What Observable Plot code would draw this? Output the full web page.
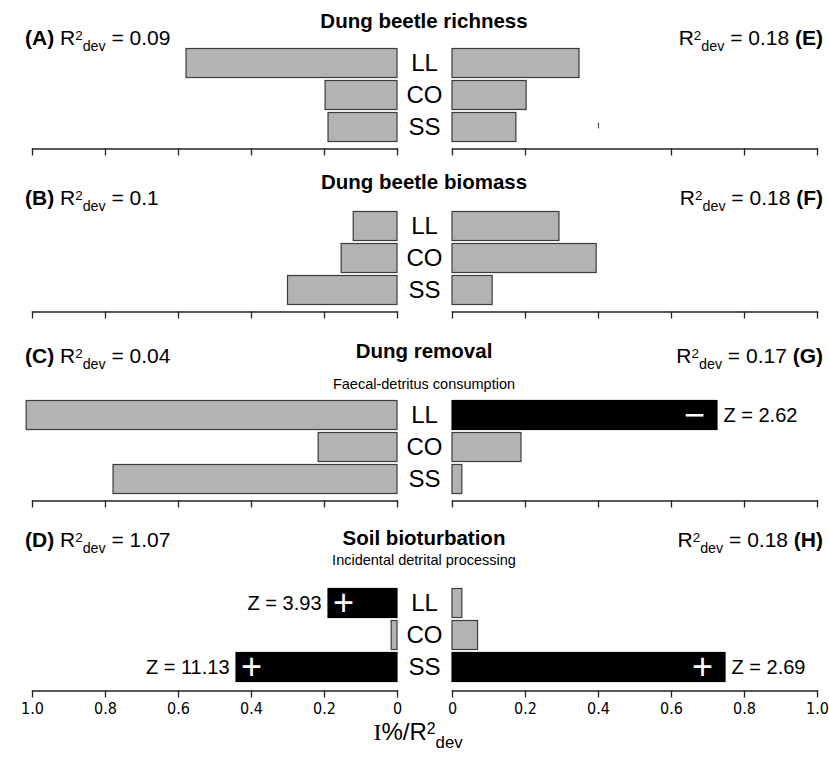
<!DOCTYPE html>
<html><head><meta charset="utf-8">
<script src="https://cdn.jsdelivr.net/npm/d3@7"></script>
<script src="https://cdn.jsdelivr.net/npm/@observablehq/plot@0.6"></script>
<style>
body{margin:0;background:#fff;}
#fig{position:relative;width:829px;height:762px;font-family:"Liberation Sans",Arial,sans-serif;color:#000;overflow:hidden;}
.abs{position:absolute;white-space:nowrap;line-height:1;}
.abs sup,.abs sub{line-height:0;}
.panel{position:absolute;}
</style></head><body><div id="fig"></div>
<script>
// ---------- data ----------
const levels = ["LL", "CO", "SS"];
const titles = ["Dung beetle richness", "Dung beetle biomass", "Dung removal", "Soil bioturbation"];
const subtitles = ["", "", "Faecal-detritus consumption", "Incidental detrital processing"];
const leftLetters = ["A", "B", "C", "D"];
const rightLetters = ["E", "F", "G", "H"];
const leftR2 = ["0.09", "0.1", "0.04", "1.07"];
const rightR2 = ["0.18", "0.18", "0.17", "0.18"];

// I%/R2dev per land-use level (LL, CO, SS)
const valuesA = [0.578, 0.197, 0.189];
const valuesB = [0.120, 0.153, 0.300];
const valuesC = [1.016, 0.216, 0.778];
const valuesD = [0.189, 0.016, 0.441];
const valuesE = [0.348, 0.203, 0.175];
const valuesF = [0.293, 0.395, 0.110];
const valuesG = [0.726, 0.189, 0.027];
const valuesH = [0.027, 0.070, 0.748];

// significant effects: sign and Z value
const none = [null, null, null];
const signsD = ["+", null, "+"];
const zD = ["3.93", null, "11.13"];
const signsG = ["\u2212", null, null];
const zG = ["2.62", null, null];
const signsH = [null, null, "+"];
const zH = [null, null, "2.69"];

const tickValues = [0, 0.2, 0.4, 0.6, 0.8, 1.0];
const tickValuesE = [0, 0.2, 0.6, 0.8, 1.0];
const strayTickE = [0.4];

// ---------- layout ----------
const W = 829;
const barTop = [48, 211, 400, 588];
const axisY = [148, 311, 500, 690];
const fig = document.getElementById("fig");
const baseFont = '"Liberation Sans", Arial, sans-serif';
const narrowFont = '"Liberation Sans Narrow", "Arial Narrow", "DejaVu Sans Condensed", sans-serif';

function fmt(d) { return d === 0 ? "0" : d.toFixed(1); }

function panel(row, side, vals, signs, zs, ticks, showLabels, stray) {
  const left = side === "left";
  const data = levels.map((k, i) => ({level: k, value: vals[i], sig: signs[i], z: zs[i]}));
  const mt = 10, mb = 30;
  const gap = axisY[row] - barTop[row] - 94.5;
  const height = mt + 96 + gap + mb;
  const width = left ? 440 : 389;
  const marks = [
    Plot.barX(data, {
      x: "value", y: "level",
      fill: d => d.sig ? "#000" : "#b3b3b3",
      stroke: d => d.sig ? "#000" : "#3c3c3c",
      strokeWidth: 1.2, insetTop: 1.5, insetBottom: 1.5
    }),
    Plot.frame({anchor: "bottom", stroke: "#222", strokeWidth: 1.4}),
    Plot.axisX({
      ticks, tickSize: 7, strokeWidth: 1.3, stroke: "#222", tickPadding: 5,
      tickFormat: showLabels ? fmt : () => "",
      fontSize: 16, fontFamily: narrowFont, label: null
    }),
    Plot.text(data.filter(d => d.sig), {
      x: "value", y: "level", text: "sig", fill: "#fff",
      fontSize: 36, fontWeight: d => d.sig === "+" ? "normal" : "bold",
      dx: left ? 15 : -23, textAnchor: "middle"
    }),
    Plot.text(data.filter(d => d.z), {
      x: "value", y: "level", text: d => "Z = " + d.z, fontSize: 20,
      textAnchor: left ? "end" : "start", dx: left ? -7 : 6
    })
  ];
  if (left) {
    marks.push(Plot.text(data, {x: () => 0, y: "level", text: "level", fontSize: 24, dx: 27, textAnchor: "middle"}));
  }
  if (stray) {
    marks.push(Plot.tickX(stray, {x: d => d, y: () => "SS", stroke: "#555", strokeWidth: 1.2, insetTop: 11.5, insetBottom: 14.5}));
  }
  const svg = Plot.plot({
    width, height,
    marginTop: mt, marginBottom: mb,
    marginLeft: left ? 32 : 12, marginRight: left ? 43 : 12,
    x: {domain: [0, 1], reverse: left},
    y: {domain: levels, padding: 0, insetBottom: gap, axis: null},
    style: {background: "transparent", overflow: "visible", fontFamily: baseFont, fontSize: "16px", color: "#000"},
    marks
  });
  svg.classList.add("panel");
  svg.style.left = (left ? 0 : 440) + "px";
  svg.style.top = (barTop[row] - 1.5 - mt) + "px";
  fig.appendChild(svg);
}

function label(html, x, baseline, fs, align, extra = "") {
  const d = document.createElement("div");
  d.className = "abs";
  d.innerHTML = html;
  d.style.fontSize = fs + "px";
  d.style.top = (baseline - 0.8465 * fs) + "px";
  if (align === "left") d.style.left = x + "px";
  else if (align === "right") d.style.right = (W - x) + "px";
  else { d.style.left = x + "px"; d.style.transform = "translateX(-50%)"; }
  d.style.cssText += extra;
  fig.appendChild(d);
}

const r2 = v => `R<sup style="font-size:0.64em;vertical-align:0.36em">2</sup><sub style="font-size:0.68em;vertical-align:-0.4em">dev</sub> = ${v}`;

const headerBase = [45, 205, 363, 547];
const titleBase = [28, 189, 358, 545];
const subBase = [null, null, 389, 565];

panel(0, "left", valuesA, none, none, tickValues, false);
panel(0, "right", valuesE, none, none, tickValuesE, false, strayTickE);
panel(1, "left", valuesB, none, none, tickValues, false);
panel(1, "right", valuesF, none, none, tickValues, false);
panel(2, "left", valuesC, none, none, tickValues, false);
panel(2, "right", valuesG, signsG, zG, tickValues, false);
panel(3, "left", valuesD, signsD, zD, tickValues, true);
panel(3, "right", valuesH, signsH, zH, tickValues, true);

for (let r = 0; r < 4; r++) {
  label(`<b>(${leftLetters[r]})</b> ${r2(leftR2[r])}`, 25, headerBase[r], 21, "left");
  label(`${r2(rightR2[r])} <b>(${rightLetters[r]})</b>`, 823, headerBase[r], 21, "right");
  label(`<b>${titles[r]}</b>`, 424, titleBase[r], 20.5, "center");
  if (subtitles[r]) label(subtitles[r], 424, subBase[r], 14.5, "center");
}
label(`<span style="font-family:'Liberation Serif','DejaVu Serif',serif">I</span>%/R<sup style="font-size:0.66em;vertical-align:0.4em">2</sup><sub style="font-size:0.7em;vertical-align:-0.45em">dev</sub>`, 418, 740, 24, "center");
</script></body></html>
